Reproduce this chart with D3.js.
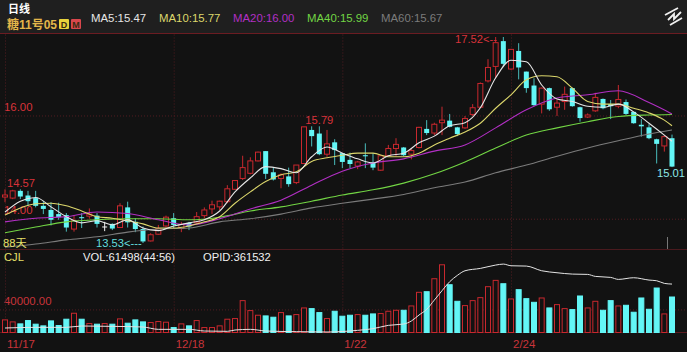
<!DOCTYPE html>
<html>
<head>
<meta charset="utf-8">
<script src="https://d3js.org/d3.v7.min.js"></script>
<style>
  html, body { margin: 0; padding: 0; background: #121212; overflow: hidden; }
  svg { display: block; font-family: "Liberation Sans", "Noto Sans CJK SC", sans-serif; }
  .wick { stroke-width: 1; }
  .grid line { stroke: #521c21; stroke-dasharray: 1 2; }
  .ma { fill: none; stroke-width: 1.1; }
</style>
</head>
<body>
<div id="chart"></div>
<script>
const opens = [14.42,14.40,14.54,14.45,14.40,14.25,14.17,14.09,14.07,13.80,14.03,14.05,14.06,13.85,13.90,13.83,14.22,13.94,13.80,13.57,13.70,13.86,14.01,13.81,13.92,13.92,14.06,14.19,14.23,14.33,14.57,14.78,14.88,15.12,15.31,14.90,14.78,14.82,14.70,15.07,15.72,15.65,15.25,15.48,15.27,15.14,15.02,15.23,15.09,14.94,15.22,15.36,15.38,15.25,15.38,15.74,15.66,15.86,15.90,15.77,15.76,16.02,16.16,16.67,16.95,17.44,16.90,17.25,16.85,16.58,16.22,16.53,16.16,16.27,16.53,16.16,15.97,16.09,16.32,16.22,16.18,16.26,16.07,15.82,15.77,15.54,15.41,15.56];
const highs = [14.57,14.56,14.57,14.54,14.54,14.34,14.32,14.31,14.11,14.07,14.11,14.20,14.11,13.94,13.91,14.30,14.33,14.01,13.85,13.72,13.88,14.06,14.11,13.94,13.94,14.13,14.22,14.35,14.35,14.65,14.75,15.22,15.19,15.30,15.31,14.99,14.88,14.99,15.04,15.78,15.79,15.79,15.72,15.54,15.28,15.28,15.12,15.46,15.27,15.23,15.43,15.56,15.39,15.36,15.78,15.91,15.86,16.17,16.03,15.78,15.99,16.22,16.64,17.09,17.52,17.52,17.29,17.40,16.85,16.72,16.54,16.54,16.31,16.56,16.54,16.17,16.04,16.44,16.33,16.30,16.59,16.31,16.07,15.93,15.83,15.55,15.62,15.63];
const lows = [14.32,14.38,14.38,14.25,14.22,14.09,13.87,13.98,13.75,13.75,13.82,14.00,13.83,13.76,13.78,13.83,13.83,13.74,13.53,13.56,13.69,13.83,13.81,13.74,13.78,13.91,14.01,14.09,14.17,14.30,14.56,14.75,14.86,15.11,14.77,14.74,14.59,14.62,14.67,15.06,15.40,15.23,15.20,15.04,14.98,14.98,14.96,14.98,14.94,14.93,15.21,15.21,15.21,15.15,15.36,15.62,15.62,15.62,15.77,15.60,15.74,15.99,16.15,16.64,16.72,16.95,16.88,16.70,16.44,16.18,16.04,16.09,15.99,16.11,16.17,15.88,15.95,16.07,16.12,15.93,16.14,16.01,15.84,15.59,15.54,15.07,15.30,15.00];
const closes = [14.46,14.54,14.43,14.34,14.25,14.19,13.98,14.03,13.83,13.96,14.01,14.09,13.90,13.85,13.81,14.25,13.93,13.80,13.56,13.69,13.81,14.03,13.88,13.89,13.85,14.04,14.17,14.27,14.34,14.58,14.74,14.99,15.12,15.29,14.87,14.76,14.85,14.67,15.04,15.78,15.60,15.25,15.45,15.33,15.10,15.06,15.10,15.21,14.99,15.22,15.36,15.44,15.23,15.32,15.77,15.66,15.83,15.91,15.78,15.64,15.94,16.15,16.62,16.93,17.41,17.00,17.28,16.93,16.53,16.20,16.53,16.12,16.24,16.41,16.18,15.95,16.01,16.35,16.14,16.18,16.31,16.03,15.85,15.79,15.56,15.45,15.59,15.01];
const volumes = [21850,18400,14950,20700,14400,11500,20100,12100,23000,33350,23000,15500,14400,15500,14400,23600,16100,21850,18400,17250,19000,17800,8600,14950,11500,20700,8600,8600,11500,23000,24150,55200,37950,29900,28750,26450,34500,28750,31050,42550,41400,34500,24150,36800,28200,29900,31050,29900,32200,32800,36800,38500,38500,46000,69600,70700,93150,117300,82800,54050,46600,55200,60400,79350,90300,84500,58100,74200,58650,52300,59800,42550,48300,41400,39700,63250,42550,54050,38500,55200,46000,47150,35100,59800,40250,77050,32200,61498];

// moving averages read every two / four candles
const fastIndex = [0,2,4,6,8,10,12,14,16,18,20,22,24,26,28,30,32,34,36,38,40,42,44,46,48,50,52,54,56,58,60,62,64,66,68,70,72,74,76,78,80,82,84,86,87];
const ma5 = [14.13,14.34,14.41,14.23,14.04,13.92,13.96,13.88,13.98,13.82,13.77,13.86,13.92,13.98,14.15,14.52,14.79,15.01,14.97,14.89,15.20,15.39,15.27,15.16,15.08,15.22,15.27,15.47,15.60,15.80,15.86,16.15,16.73,17.07,17.04,16.59,16.32,16.27,16.18,16.16,16.22,16.07,15.85,15.62,15.50];
const ma10 = [14.07,14.21,14.29,14.30,14.25,14.15,14.04,14.01,13.96,13.90,13.82,13.82,13.86,13.94,14.04,14.30,14.52,14.72,14.85,14.91,15.11,15.18,15.23,15.27,15.27,15.20,15.20,15.27,15.43,15.56,15.68,15.85,16.14,16.40,16.69,16.77,16.75,16.53,16.27,16.22,16.22,16.14,16.05,15.91,15.80];
const slowIndex = [0,4,8,12,16,20,24,28,32,36,40,44,48,52,56,60,64,68,72,76,80,84,87];
const ma20 = [13.94,14.01,14.04,14.13,14.10,13.98,13.88,14.00,14.19,14.36,14.65,14.92,15.08,15.16,15.31,15.43,15.76,16.11,16.34,16.40,16.48,16.25,16.03];
const ma40 = [13.73,13.84,13.94,13.98,14.00,14.00,13.98,14.03,14.15,14.23,14.34,14.46,14.56,14.69,14.87,15.10,15.37,15.62,15.76,15.88,15.98,16.01,16.02];
const ma60 = [13.45,13.51,13.59,13.65,13.74,13.80,13.82,13.94,14.00,14.09,14.21,14.30,14.38,14.47,14.60,14.71,14.89,15.04,15.21,15.37,15.51,15.64,15.72];

const opiIndex = [0,4,8,10,14,18,20,24,26,29,30,32,34,38,42,46,48,50,52,53,54,55,56,57,58,59,60,62,64,65,66,68,70,72,74,76,77,79,80,82,84,85,86,87];
const opiValues = [141500,144800,144800,151500,149800,146500,134800,134800,126500,124800,131500,134800,126500,123200,121500,129800,138200,154800,161500,176500,206500,234800,281500,328200,373200,404900,428200,439900,456600,461600,453200,451600,428200,418200,411500,409900,399900,394900,384900,393200,381500,378200,364900,361532];

const dateTicks = [0,22,44,66];
const dateLabels = ["11/17","12/18","1/22","2/24"];
const priceTicks = [14,16];
const volumeTicks = [40000];
const maLabels = ["MA5:15.47","MA10:15.77","MA20:16.00","MA40:15.99","MA60:15.67"];
const maColors = ["#e6e6e6","#dcd76c","#b22fc4","#72d544","#7b7b7b"];
const maLabelX = [91,159,233,307,381];

const width = 687, height = 352;
const RED = "#c8282e", CYAN = "#63f6f6", WICK = "#49bcbc";

const svg = d3.select("#chart").append("svg").attr("width", width).attr("height", height);

const x = d3.scaleLinear().domain([0, 87]).range([5, 672]);
const y = d3.scaleLinear().domain([13.53, 17.52]).range([243, 37]);
const yVol = d3.scaleLinear().domain([0, 61498]).range([332.5, 297]);
const yOpi = d3.scaleLinear().domain([120000, 462000]).range([332.3, 264]);

// header + panels
svg.append("rect").attr("width", width).attr("height", 33).attr("fill", "#1f1f1f");
svg.append("rect").attr("y", 33).attr("width", width).attr("height", 319).attr("fill", "#121212");
svg.append("line").attr("x1", 0).attr("x2", width).attr("y1", 33.5).attr("y2", 33.5).attr("stroke", "#6b1c22");
svg.append("line").attr("x1", 0).attr("x2", width).attr("y1", 249.5).attr("y2", 249.5).attr("stroke", "#4a1a1e");

svg.append("text").attr("x", 8).attr("y", 13).attr("fill", "#fff").attr("font-size", 11).attr("font-weight", "bold").text("日线");
svg.append("text").attr("x", 7).attr("y", 29).attr("fill", "#e3b64a").attr("font-size", 12).attr("font-weight", "bold").text("糖11号05");
const badges = [["D", 59, "#e8d23c"], ["M", 71, "#d9474c"]];
badges.forEach(([t, bx, c]) => {
  svg.append("rect").attr("x", bx).attr("y", 19).attr("width", 10).attr("height", 10).attr("rx", 1).attr("fill", c);
  svg.append("text").attr("x", bx + 5).attr("y", 27.5).attr("text-anchor", "middle").attr("font-size", 9).attr("font-weight", "bold").attr("fill", "#3a2a10").text(t);
});
svg.selectAll(".ma-label").data(maLabels).enter().append("text")
  .attr("class", "ma-label")
  .attr("x", (d, i) => maLabelX[i])
  .attr("y", 22)
  .attr("font-size", 11.4)
  .attr("fill", (d, i) => maColors[i])
  .text(d => d);

// zigzag icon top right
const icon = svg.append("g").attr("stroke", "#f0f0f0").attr("stroke-width", 1.8).attr("fill", "none");
icon.append("path").attr("d", "M670 25L682 18");
icon.append("path").attr("d", "M665 15L678 8");
icon.append("path").attr("d", "M668 20L674 14L674 19L681 12");

// price axis, the labels sit above their gridline
const priceAxis = svg.append("g").attr("class", "grid")
  .call(d3.axisRight(y).tickValues(priceTicks).tickSize(width).tickFormat(d3.format(".2f")));
priceAxis.select(".domain").remove();
priceAxis.selectAll("text").attr("x", 4).attr("dy", "-0.45em")
  .attr("fill", "#d8323a").attr("font-size", 11.4).attr("font-family", "Liberation Sans");

const volAxis = svg.append("g").attr("class", "grid")
  .call(d3.axisRight(yVol).tickValues(volumeTicks).tickSize(width).tickFormat(d3.format(".2f")));
volAxis.select(".domain").remove();
volAxis.selectAll("text").attr("x", 4).attr("dy", "-0.4em")
  .attr("fill", "#c8343a").attr("font-size", 11.4).attr("font-family", "Liberation Sans");

// vertical date lines + labels
const dateAxis = svg.append("g").attr("class", "grid").attr("transform", "translate(0,332.5)")
  .call(d3.axisBottom(x).tickValues(dateTicks).tickSize(-298).tickFormat((d, i) => dateLabels[i]));
dateAxis.select(".domain").attr("stroke", "#5a1a1f").attr("d", `M0,0H${width}`);
dateAxis.selectAll("text").attr("y", 15).attr("dy", 0).attr("text-anchor", "start")
  .attr("dx", 1.5)
  .attr("fill", "#c8343a").attr("font-size", 11.5).attr("font-family", "Liberation Sans");

// volume bars
const bw = 5;
svg.append("g").selectAll("rect").data(volumes).enter().append("rect")
  .attr("x", (d, i) => x(i) - bw / 2)
  .attr("y", d => yVol(d))
  .attr("width", bw)
  .attr("height", d => yVol(0) - yVol(d))
  .attr("fill", (d, i) => closes[i] < opens[i] ? CYAN : "#121212")
  .attr("stroke", (d, i) => closes[i] < opens[i] ? CYAN : RED)
  .attr("stroke-width", 1);

// candles
const candles = svg.append("g").selectAll("g").data(d3.range(opens.length)).enter().append("g");
const candleColor = i => closes[i] > opens[i] ? RED : closes[i] < opens[i] ? CYAN : "#f2f2f2";

candles.append("line").attr("class", "wick")
  .attr("x1", i => x(i)).attr("x2", i => x(i))
  .attr("y1", i => y(highs[i])).attr("y2", i => y(lows[i]))
  .attr("stroke", i => closes[i] > opens[i] ? RED : closes[i] < opens[i] ? WICK : "#f2f2f2");

candles.append("rect")
  .attr("x", i => x(i) - bw / 2)
  .attr("y", i => y(Math.max(opens[i], closes[i])))
  .attr("width", bw)
  .attr("height", i => Math.max(1, Math.abs(y(opens[i]) - y(closes[i]))))
  .attr("fill", i => closes[i] > opens[i] ? "#121212" : candleColor(i))
  .attr("stroke", i => closes[i] > opens[i] ? RED : "none");

// moving average lines
const maLine = (index) => d3.line().x((d, i) => x(index[i])).y(d => y(d)).curve(d3.curveMonotoneX);
const maSeries = [[ma60, slowIndex, 4], [ma40, slowIndex, 3], [ma20, slowIndex, 2], [ma10, fastIndex, 1], [ma5, fastIndex, 0]];
maSeries.forEach(([values, index, c]) => {
  svg.append("path").attr("class", "ma")
    .attr("d", maLine(index)(values))
    .attr("stroke", maColors[c]);
});

// open interest line in the volume panel
svg.append("path").attr("fill", "none").attr("stroke", "#e4e4e4").attr("stroke-width", 1)
  .attr("d", d3.line().x((d, i) => x(opiIndex[i])).y(d => yOpi(d)).curve(d3.curveMonotoneX)(opiValues));

// notes on the chart
const notes = [
  ["14.57", 7, y(14.57) - 2, "#d8323a", "start"],
  ["15.79", x(41), y(15.79) - 2, "#d8323a", "middle"],
  ["17.52<--", 455, y(17.52) + 6, "#d8323a", "start"],
  ["13.53<---", 96, y(13.53) + 4, "#63dcdc", "start"],
  ["15.01", 685, y(15.01) + 10, "#8ee8e8", "end"],
  ["88天", 3, 247, "#e6e06a", "start"],
  ["CJL", 4, 261, "#e6e06a", "start"],
  ["VOL:61498(44:56)", 83, 261, "#f0f0f0", "start"],
  ["OPID:361532", 203, 261, "#f0f0f0", "start"]
];
svg.selectAll(".note").data(notes).enter().append("text")
  .attr("class", "note")
  .attr("x", d => d[1]).attr("y", d => d[2])
  .attr("fill", d => d[3]).attr("text-anchor", d => d[4])
  .attr("font-size", 11.2)
  .text(d => d[0]);

svg.append("line").attr("x1", 667.5).attr("x2", 667.5).attr("y1", 237).attr("y2", 249).attr("stroke", "#777");
</script>
</body>
</html>
